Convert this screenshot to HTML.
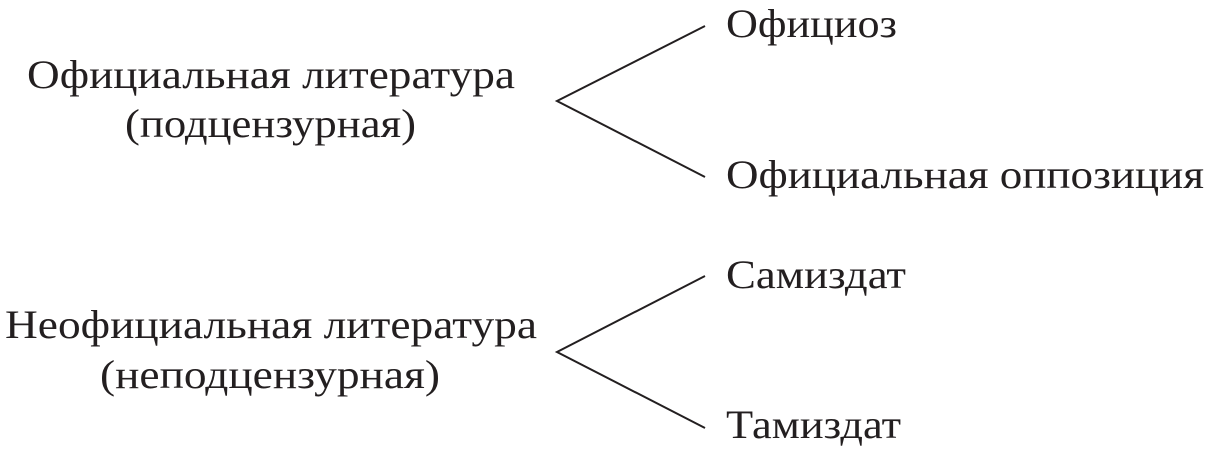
<!DOCTYPE html>
<html><head><meta charset="utf-8"><style>
html,body{margin:0;padding:0;background:#fff;}
svg{display:block;}
text{font-family:"Liberation Serif","DejaVu Serif",serif;font-size:40px;fill:#231f20;}
</style></head><body>
<svg width="1209" height="449" viewBox="0 0 1209 449" xmlns="http://www.w3.org/2000/svg">
<g stroke="#231f20" stroke-width="2" fill="none">
<polyline points="705,26 557,101 705,177"/>
<polyline points="705,276 557,352 705,428"/>
</g>
<text x="27" y="88" textLength="488" lengthAdjust="spacingAndGlyphs">Официальная литература</text>
<text x="125" y="137" textLength="291" lengthAdjust="spacingAndGlyphs">(подцензурная)</text>
<text x="726" y="37" textLength="171" lengthAdjust="spacingAndGlyphs">Официоз</text>
<text x="726" y="188" textLength="478" lengthAdjust="spacingAndGlyphs">Официальная оппозиция</text>
<text x="5" y="338" textLength="532" lengthAdjust="spacingAndGlyphs">Неофициальная литература</text>
<text x="100" y="388" textLength="340" lengthAdjust="spacingAndGlyphs">(неподцензурная)</text>
<text x="726" y="288" textLength="180" lengthAdjust="spacingAndGlyphs">Самиздат</text>
<text x="726" y="438" textLength="175" lengthAdjust="spacingAndGlyphs">Тамиздат</text>
</svg>
</body></html>
